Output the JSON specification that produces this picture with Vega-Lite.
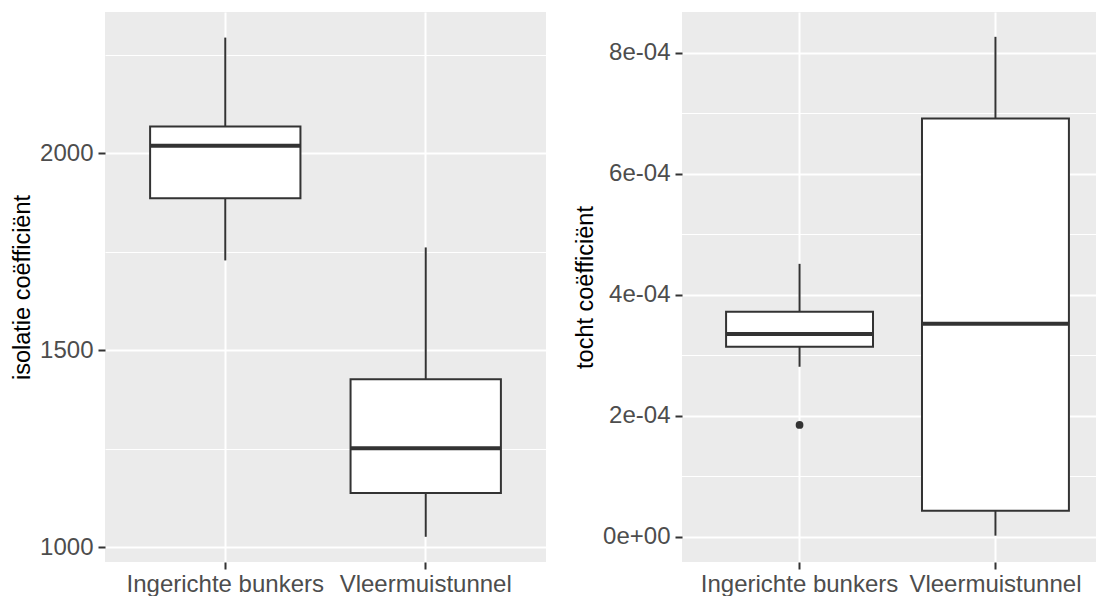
{
  "$schema": "https://vega.github.io/schema/vega-lite/v6.json",
  "padding": {"left": 10, "top": 12, "right": 0, "bottom": 0},
  "background": "white",
  "spacing": 27,
  "config": {
    "view": {"fill": "#EBEBEB", "stroke": null},
    "axis": {
      "labelFont": "Liberation Sans", "titleFont": "Liberation Sans",
      "labelFontSize": 24, "labelColor": "#4D4D4D", "labelLimit": 0,
      "titleFontSize": 23.5, "titleColor": "#000000", "titleFontWeight": "normal",
      "tickColor": "#333333", "tickSize": 7, "tickWidth": 2,
      "domain": false, "gridColor": "#FFFFFF", "gridWidth": 2, "labelPadding": 5
    }
  },
  "datasets": {
    "iso": [
      {"groep": "Ingerichte bunkers", "lower": 1728, "q1": 1886, "median": 2019, "q3": 2068, "upper": 2294},
      {"groep": "Vleermuistunnel", "lower": 1026, "q1": 1137, "median": 1251, "q3": 1426, "upper": 1761}
    ],
    "tocht": [
      {"groep": "Ingerichte bunkers", "lower": 0.000281, "q1": 0.000314, "median": 0.000335, "q3": 0.000372, "upper": 0.000451},
      {"groep": "Vleermuistunnel", "lower": 0.000002, "q1": 0.000043, "median": 0.000352, "q3": 0.000691, "upper": 0.000826}
    ],
    "tocht_out": [
      {"groep": "Ingerichte bunkers", "waarde": 0.000185}
    ]
  },
  "hconcat": [
    {
      "width": 441, "height": 550,
      "data": {"name": "iso"},
      "encoding": {
        "x": {"field": "groep", "type": "nominal", "sort": null,
          "scale": {"type": "band", "paddingInner": 0.25, "paddingOuter": 0.225},
          "axis": {"title": null, "labelAngle": 0, "grid": true, "bandPosition": 0.5, "labelPadding": 3}}
      },
      "resolve": {"axis": {"y": "independent"}},
      "layer": [
        {"mark": {"type": "rule", "color": "#333333", "strokeWidth": 2},
         "encoding": {
           "y": {"field": "lower", "type": "quantitative",
             "scale": {"domain": [962, 2359], "nice": false, "zero": false},
             "axis": {"title": "isolatie coëfficiënt", "values": [1000, 1500, 2000], "format": "d", "grid": true, "titlePadding": 5}},
           "y2": {"field": "q1"}}},
        {"mark": {"type": "rule", "color": "#333333", "strokeWidth": 2},
         "encoding": {
           "y": {"field": "q3", "type": "quantitative",
             "axis": {"orient": "right", "values": [1250, 1750, 2250], "grid": true, "gridWidth": 1, "labels": false, "ticks": false, "title": null}},
           "y2": {"field": "upper"}}},
        {"mark": {"type": "bar", "fill": "#FFFFFF", "stroke": "#333333", "strokeWidth": 2},
         "encoding": {
           "y": {"field": "q1", "type": "quantitative", "axis": null},
           "y2": {"field": "q3"}}},
        {"mark": {"type": "bar", "fill": "#FFFFFF", "stroke": "#333333", "strokeWidth": 4},
         "encoding": {
           "y": {"field": "median", "type": "quantitative", "axis": null},
           "y2": {"field": "median"}}}
      ]
    },
    {
      "width": 416, "height": 550,
      "encoding": {
        "x": {"field": "groep", "type": "nominal", "sort": null,
          "scale": {"type": "band", "range": [0, 431], "paddingInner": 0.25, "paddingOuter": 0.225, "domain": ["Ingerichte bunkers", "Vleermuistunnel"]},
          "axis": {"title": null, "labelAngle": 0, "grid": true, "bandPosition": 0.5, "labelPadding": 3}}
      },
      "resolve": {"axis": {"y": "independent"}},
      "layer": [
        {"data": {"name": "tocht"},
         "mark": {"type": "rule", "color": "#333333", "strokeWidth": 2},
         "encoding": {
           "y": {"field": "lower", "type": "quantitative",
             "scale": {"domain": [-0.0000415, 0.000867], "nice": false, "zero": false},
             "axis": {"title": "tocht coëfficiënt", "values": [0, 0.0002, 0.0004, 0.0006, 0.0008], "grid": true, "titlePadding": 5,
               "labelExpr": "replace(replace(format(datum.value, '.0e'), 'e-', 'e-0'), 'e+', 'e+0')"}},
           "y2": {"field": "q1"}}},
        {"data": {"name": "tocht"},
         "mark": {"type": "rule", "color": "#333333", "strokeWidth": 2},
         "encoding": {
           "y": {"field": "q3", "type": "quantitative",
             "axis": {"orient": "right", "values": [0.0001, 0.0003, 0.0005, 0.0007], "grid": true, "gridWidth": 1, "labels": false, "ticks": false, "title": null}},
           "y2": {"field": "upper"}}},
        {"data": {"name": "tocht"},
         "mark": {"type": "bar", "fill": "#FFFFFF", "stroke": "#333333", "strokeWidth": 2},
         "encoding": {
           "y": {"field": "q1", "type": "quantitative", "axis": null},
           "y2": {"field": "q3"}}},
        {"data": {"name": "tocht"},
         "mark": {"type": "bar", "fill": "#FFFFFF", "stroke": "#333333", "strokeWidth": 4},
         "encoding": {
           "y": {"field": "median", "type": "quantitative", "axis": null},
           "y2": {"field": "median"}}},
        {"data": {"name": "tocht_out"},
         "mark": {"type": "point", "filled": true, "color": "#333333", "opacity": 1, "size": 60},
         "encoding": {
           "y": {"field": "waarde", "type": "quantitative", "axis": null}}}
      ]
    }
  ]
}
